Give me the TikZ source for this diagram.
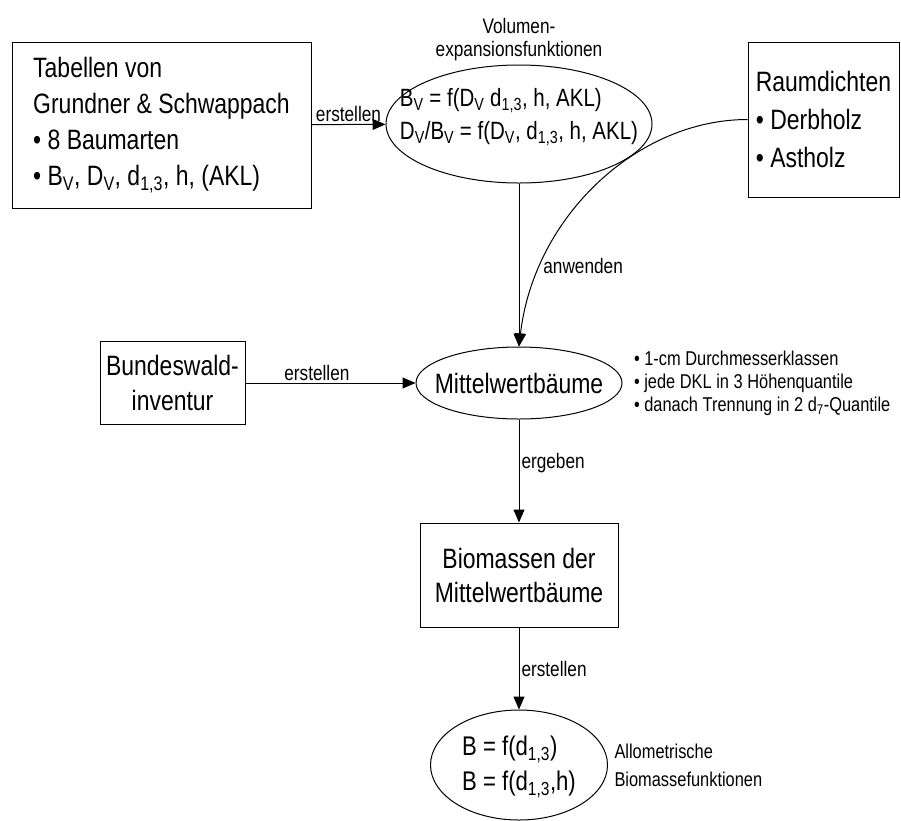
\documentclass[tikz,border=0pt]{standalone}
\usepackage{fontspec}
\setmainfont{Liberation Sans}[FakeStretch=0.82]
\usetikzlibrary{arrows.meta,positioning,shapes.geometric}

\newcommand{\bigtext}{\fontsize{28}{36}\selectfont}
\newcommand{\formtext}{\fontsize{25}{33}\selectfont}
\newcommand{\midtext}{\fontsize{21}{23}\selectfont}
\newcommand{\smalltext}{\fontsize{20}{23}\selectfont}

\begin{document}
\begin{tikzpicture}[x=1pt, y=1pt,
            ->, >={Triangle[length=13pt,width=11pt]}, % makes the connectors directed
            line width=1pt,
            box/.style={draw, font=\bigtext, inner sep=0pt}, % rectangles
            oval/.style={draw, ellipse, inner sep=0pt}, % empty ellipses, text is put on top
            lbl/.style={font=\midtext, inner sep=2pt},
            note/.style={font=\smalltext, align=left, inner sep=0pt},
        ]
        \useasboundingbox (0,0) rectangle (901,-820);

        \node[box, minimum width=299pt, minimum height=166pt, align=left] (tab) at (161.5,-125)
            {Tabellen von\\Grundner \& Schwappach\\\textbullet\ 8 Baumarten\\\textbullet\ B\textsubscript{V}, D\textsubscript{V}, d\textsubscript{1,3}, h, (AKL)};

        \node[oval, minimum width=266pt, minimum height=118pt] (vef) at (519,-124) {};
        \node[font=\formtext, align=left, inner sep=0pt] (veftext) at (519,-117)
            {B\textsubscript{V} = f(D\textsubscript{V} d\textsubscript{1,3}, h, AKL)\\D\textsubscript{V}/B\textsubscript{V} = f(D\textsubscript{V}, d\textsubscript{1,3}, h, AKL)};
        \node[lbl, align=center, above=1pt of vef] (veflabel) {Volumen-\\expansionsfunktionen};

        \node[box, minimum width=151pt, minimum height=155pt, align=left, font=\fontsize{28}{38}\selectfont] (raum) at (823.5,-119.5)
            {Raumdichten\\\textbullet\ Derbholz\\\textbullet\ Astholz};

        \node[oval, minimum width=206pt, minimum height=72pt] (mwb) at (519,-383) {};
        \node[font=\bigtext, inner sep=0pt] (mwbtext) at (mwb) {Mittelwertbäume};
        \node[note, right=11pt of mwb] (mwbnote)
            {\textbullet\ 1-cm Durchmesserklassen\\\textbullet\ jede DKL in 3 Höhenquantile\\\textbullet\ danach Trennung in 2 d\textsubscript{7}-Quantile};

        \node[box, minimum width=145pt, minimum height=83pt, align=center, font=\fontsize{28}{35}\selectfont] (bwi) at (172.5,-383)
            {Bundeswald-\\inventur};

        \node[box, minimum width=198pt, minimum height=104pt, align=center, font=\fontsize{28}{34}\selectfont] (bmm) at (519,-575)
            {Biomassen der\\Mittelwertbäume};

        \node[oval, minimum width=177pt, minimum height=110pt] (abf) at (519,-765) {};
        \node[font=\fontsize{27}{35}\selectfont, align=left, inner sep=0pt] (abftext) at (519,-767)
            {B = f(d\textsubscript{1,3})\\B = f(d\textsubscript{1,3},h)};
        \node[note, right=6pt of abf, font=\fontsize{20}{28}\selectfont] (abfnote)
            {Allometrische\\Biomassefunktionen};

        \draw
        (tab) edge node[lbl, above] {erstellen} (vef)
        (vef) edge (mwb)
        (bwi) edge node[lbl, above, pos=0.42] {erstellen} (mwb)
        (mwb) edge node[lbl, right, pos=0.42] {ergeben} (bmm)
        (bmm) edge node[lbl, right] {erstellen} (abf);
        \draw (raum.west) .. controls +(-110,0) and +(15,130) .. (mwb.north)
            node[lbl, pos=0.78, right] {anwenden};
    \end{tikzpicture}
\end{document}
